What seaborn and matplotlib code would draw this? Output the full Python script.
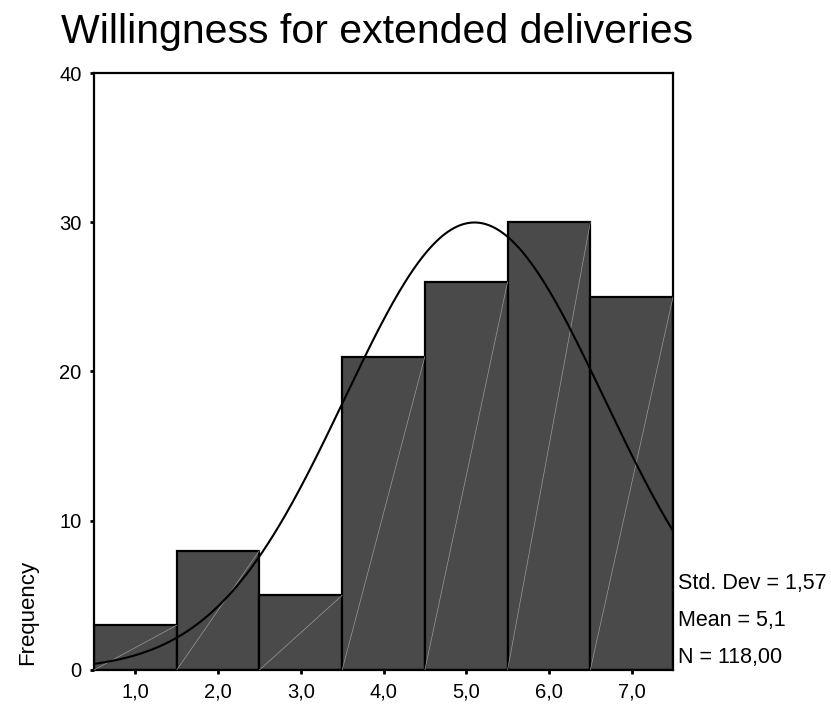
import matplotlib

matplotlib.use("Agg")

import matplotlib.pyplot as plt
import numpy as np
import pandas as pd
import seaborn as sns

# answer scale values and their frequencies
scale_values = [1, 2, 3, 4, 5, 6, 7]
frequencies = [3, 8, 5, 21, 26, 30, 25]
tick_labels = ["1,0", "2,0", "3,0", "4,0", "5,0", "6,0", "7,0"]
y_ticks = [0, 10, 20, 30, 40]

# summary stats shown next to the chart
std_dev = 1.57
mean = 5.1
n_total = 118

title = "Willingness for extended deliveries"
stats_lines = ["Std. Dev = 1,57", "Mean = 5,1", "N = 118,00"]

sns.set_style("white")
plt.rcParams["font.family"] = ["Liberation Sans", "DejaVu Sans"]
plt.rcParams["text.color"] = "black"
plt.rcParams["xtick.color"] = "black"
plt.rcParams["ytick.color"] = "black"

frame = pd.DataFrame({"value": scale_values, "count": frequencies})

fig = plt.figure(figsize=(8.31, 7.06), dpi=100)
ax = fig.add_axes([0.1131, 0.051, 0.6968, 0.8456])

sns.histplot(
    data=frame,
    x="value",
    weights="count",
    discrete=True,
    color="#4a4a4a",
    edgecolor="black",
    linewidth=1.6,
    alpha=1,
    ax=ax,
)

# faint diagonals inside each bar, like the original SPSS render
for x, h in zip(scale_values, frequencies):
    ax.plot([x - 0.5, x + 0.5], [0, h], color="#9a9a9a", linewidth=0.5, zorder=3)

# fitted normal curve, scaled to counts (bin width 1)
xs = np.linspace(0.5, 7.5, 400)
curve = n_total / (std_dev * np.sqrt(2 * np.pi)) * np.exp(-0.5 * ((xs - mean) / std_dev) ** 2)
ax.plot(xs, curve, color="black", linewidth=1.5, zorder=4)

ax.set_xlim(0.5, 7.5)
ax.set_ylim(0, 40)
ax.set_xticks(scale_values)
ax.set_xticklabels(tick_labels)
ax.set_yticks(y_ticks)
ax.set_xlabel("")
ax.set_ylabel("")
ax.tick_params(axis="both", which="major", direction="out", length=3, width=2,
               color="black", labelcolor="black", labelsize=14.5, pad=6,
               bottom=True, left=True)
for side in ["left", "right", "top", "bottom"]:
    ax.spines[side].set_visible(True)
    ax.spines[side].set_color("black")
    ax.spines[side].set_linewidth(1.6)

fig.text(0.454, 0.955, title, ha="center", va="center", fontsize=29.5)
fig.text(0.033, 0.133, "Frequency", rotation=90, ha="center", va="center", fontsize=16)

for i, line in enumerate(stats_lines):
    fig.text(0.816, 0.174 - i * 0.0525, line, ha="left", va="center", fontsize=15.5)

fig.savefig("out.png", dpi=100)
plt.close(fig)
